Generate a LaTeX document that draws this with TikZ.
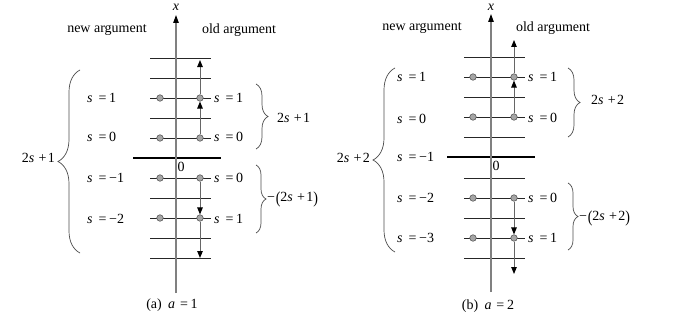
\documentclass[tikz,border=0pt]{standalone}
\usepackage{fontspec}
\usepackage{graphicx}
\setmainfont{Liberation Serif}
\usetikzlibrary{arrows.meta,decorations.pathreplacing}
\newcommand{\eqv}[1]{\textit{s}\hspace{0.42em}=\hspace{0.2em}#1}
\newcommand{\tss}[1]{2\textit{s}\hspace{0.3em}+\hspace{0.1em}#1}
\newcommand{\bigpar}[1]{\raisebox{-0.08em}{\scalebox{1}[1.2]{#1}}}
\begin{document}
\begin{tikzpicture}[x=1pt,y=-1pt,
  font=\fontsize{14}{16}\selectfont,
  lvl/.style={draw=black!85, line width=0.8pt},
  zeroline/.style={draw=black, line width=1.8pt},
  axis/.style={draw=black!50, line width=1.1pt, -{Triangle[width=5.5pt,length=8pt,color=black]}},
  dot/.style={circle, fill=black!35, draw=black!65, line width=0.6pt, inner sep=0pt, minimum size=6.5pt},
  jump/.style={draw=black!60, line width=1pt, -{Triangle[width=5.5pt,length=7pt,color=black]}},
  bracel/.style={decorate, decoration={brace, amplitude=22pt}, draw=black!70, line width=0.7pt},
  bracer/.style={decorate, decoration={brace, amplitude=#1}, draw=black!70, line width=0.7pt},
  lab/.style={anchor=west, inner sep=1pt},
  labe/.style={anchor=east, inner sep=1pt},
  axlab/.style={inner sep=0pt}
]
\useasboundingbox (0,0) rectangle (684,329);

% ================= panel (a) =================
\foreach \y in {58,78,98,118,138,178,198,218,238,258}
  \draw[lvl] (150,\y) -- (211,\y);
\draw[zeroline] (133,158) -- (221,158);
\coordinate (ab) at (176,293);
\coordinate (at) at (176,15);
\draw[axis] (ab) -- (at);
\node[axlab] (ax) at (176,7) {\textit{x}};
\node (az) at (181,167) {0};

\node[dot] (a1l) at (160,98) {};
\node[dot] (a1r) at (200,98) {};
\node[dot] (a0l) at (160,138) {};
\node[dot] (a0r) at (200,138) {};
\node[dot] (am1l) at (160,178) {};
\node[dot] (am1r) at (200,178) {};
\node[dot] (am2l) at (160,218) {};
\node[dot] (am2r) at (200,218) {};

\coordinate (atop) at (200,60);
\coordinate (abot) at (200,258);
\draw[jump] (a0r) -- (a1r);
\draw[jump] (a1r) -- (atop);
\draw[jump] (am1r) -- (am2r);
\draw[jump] (am2r) -- (abot);

\node (anew) at (107,30) {new argument};
\node (aold) at (239,30) {old argument};

\node[lab] (al1) at (86,98) {\eqv{1}};
\node[lab] (al0) at (86,137) {\eqv{0}};
\node[lab] (alm1) at (86,178) {\eqv{−1}};
\node[lab] (alm2) at (86,219) {\eqv{−2}};
\node[lab] (ar1) at (213,98) {\eqv{1}};
\node[lab] (ar0) at (213,137) {\eqv{0}};
\node[lab] (ar0b) at (213,178) {\eqv{0}};
\node[lab] (ar1b) at (213,219) {\eqv{1}};

\coordinate (abr1) at (256,84);
\coordinate (abr2) at (256,149);
\draw[bracer=12pt] (abr1) -- (abr2);
\node[lab] (abl1) at (276,118) {\tss{1}};
\coordinate (abr3) at (256,165);
\coordinate (abr4) at (256,233);
\draw[bracer=10pt] (abr3) -- (abr4);
\node[lab] (abl2) at (266,199) {−\hspace{0.05em}\bigpar{(}\tss{1}\bigpar{)}};

\coordinate (abl3) at (80,253);
\coordinate (abl4) at (80,70);
\draw[bracel] (abl3) -- (abl4);
\node[labe] (abll) at (56,158) {\tss{1}};

\node (capa) at (172,305) {(a)\hspace{0.45em}\textit{a}\hspace{0.35em}=\hspace{0.2em}1};

% ================= panel (b) =================
\foreach \y in {57,77,97,117,137,178,198,218,238,258}
  \draw[lvl] (464,\y) -- (525,\y);
\draw[zeroline] (447,157) -- (535,157);
\coordinate (bb) at (491,292);
\coordinate (bt) at (491,14);
\draw[axis] (bb) -- (bt);
\node[axlab] (bx) at (491,7) {\textit{x}};
\node (bz) at (496,166) {0};

\node[dot] (b1l) at (473,77) {};
\node[dot] (b1r) at (514,77) {};
\node[dot] (b0l) at (473,117) {};
\node[dot] (b0r) at (514,117) {};
\node[dot] (bm2l) at (473,198) {};
\node[dot] (bm2r) at (514,198) {};
\node[dot] (bm3l) at (473,238) {};
\node[dot] (bm3r) at (514,238) {};

\coordinate (btop) at (514,40);
\coordinate (bbot) at (514,274);
\draw[jump] (b0r) -- (b1r);
\draw[jump] (b1r) -- (btop);
\draw[jump] (bm2r) -- (bm3r);
\draw[jump] (bm3r) -- (bbot);

\node (bnew) at (422,28) {new argument};
\node (bold) at (553,28) {old argument};

\node[lab] (bl1) at (396,77) {\eqv{1}};
\node[lab] (bl0) at (396,119) {\eqv{0}};
\node[lab] (blm1) at (396,157) {\eqv{−1}};
\node[lab] (blm2) at (396,198) {\eqv{−2}};
\node[lab] (blm3) at (396,238) {\eqv{−3}};
\node[lab] (br1) at (527,77) {\eqv{1}};
\node[lab] (br0) at (527,118) {\eqv{0}};
\node[lab] (br0b) at (527,198) {\eqv{0}};
\node[lab] (br1b) at (527,238) {\eqv{1}};

\coordinate (bbr1) at (568,68);
\coordinate (bbr2) at (568,137);
\draw[bracer=12pt] (bbr1) -- (bbr2);
\node[lab] (bbl1) at (590,100) {\tss{2}};
\coordinate (bbr3) at (568,183);
\coordinate (bbr4) at (568,250);
\draw[bracer=10pt] (bbr3) -- (bbr4);
\node[lab] (bbl2) at (578,218) {−\hspace{0.05em}\bigpar{(}\tss{2}\bigpar{)}};

\coordinate (bbl3) at (395,252);
\coordinate (bbl4) at (395,68);
\draw[bracel] (bbl3) -- (bbl4);
\node[labe] (bbll) at (371,158) {\tss{2}};

\node (capb) at (488,306) {(b)\hspace{0.45em}\textit{a}\hspace{0.35em}=\hspace{0.2em}2};
\end{tikzpicture}
\end{document}
